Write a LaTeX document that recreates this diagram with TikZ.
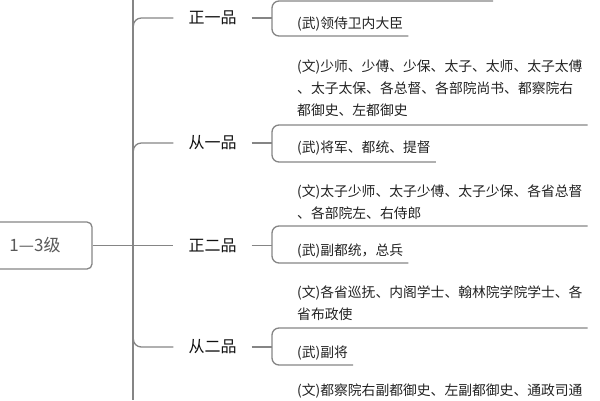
\documentclass[tikz,border=0pt]{standalone}
\usepackage{fontspec}
\newfontfamily\cjk{Noto Sans CJK SC}
\usetikzlibrary{calc}
\usepackage{xcolor}
\definecolor{linegray}{HTML}{858585}
\definecolor{rankblack}{HTML}{111111}
\definecolor{itemgray}{HTML}{222222}
\definecolor{rootgray}{HTML}{595959}

\begin{document}
\begin{tikzpicture}[x=1pt, y=-1pt,
  line/.style = {draw=linegray, line width=1.3pt},
  rank/.style = {font=\cjk\fontsize{16}{18}\selectfont, text=rankblack, inner xsep=15pt, inner ysep=2pt},
  item/.style = {font=\cjk\fontsize{13.8}{22}\selectfont, text=itemgray, align=left, anchor=base west, inner xsep=5pt, inner ysep=0pt}]

\useasboundingbox (0,0) rectangle (600,400);

% root and trunk
\node[line, rounded corners=5pt, minimum width=114pt, minimum height=47pt, inner sep=0, font=\cjk\fontsize{17}{20}\selectfont, text=rootgray] (root) at (35,245.5) {1—3级};
\coordinate (trunktop) at (133,0);
\coordinate (trunkbot) at (133,400);
\draw[line] (trunktop) -- (trunkbot);

% ranks
\node[rank] (r1) at (212.5,18) {正一品};
\node[rank] (r2) at (212.5,143) {从一品};
\node[rank] (r3) at (212.5,245.5) {正二品};
\node[rank] (r4) at (212.5,347) {从二品};

\draw[line] (root.east) -- (r3.west);
\draw[line] (r1.west) -- ++(-32,0) to[out=180, in=90] ++(-8,8);
\draw[line] (r2.west) -- ++(-32,0) to[out=180, in=90] ++(-8,8);
\draw[line] (r4.west) -- ++(-32,0) to[out=180, in=-90] ++(-8,-8);

% bracket points
\coordinate (b1t) at (272,1);
\coordinate (b1b) at (272,36);
\coordinate (b2t) at (272,125);
\coordinate (b2b) at (272,162);
\coordinate (b3t) at (272,226);
\coordinate (b3b) at (272,263);
\coordinate (b4t) at (272,328);
\coordinate (b4b) at (272,365);

% items (base = last line)
\node[item] (wu1) at (292,28) {(武)领侍卫内大臣};

\node[item] (wen2) at (292,115) {(文)少师、少傅、少保、太子、太师、太子太傅\\、太子太保、各总督、各部院尚书、都察院右\\都御史、左都御史};
\node[item] (wu2) at (292,152) {(武)将军、都统、提督};

\node[item] (wen3) at (292,218) {(文)太子少师、太子少傅、太子少保、各省总督\\、各部院左、右侍郎};
\node[item] (wu3) at (292,255) {(武)副都统，总兵};

\node[item] (wen4) at (292,319) {(文)各省巡抚、内阁学士、翰林院学院学士、各\\省布政使};
\node[item] (wu4) at (292,357) {(武)副将};

\node[item] (wen5) at (292,395) {(文)都察院右副都御史、左副都御史、通政司通};

% brackets
\draw[line, rounded corners=7pt] ($(b1t)+(221,0)$) -- (b1t) -- (b1b) -- (wu1.east |- b1b);
\draw[line, rounded corners=7pt] (wen2.east |- b2t) -- (b2t) -- (b2b) -- (wu2.east |- b2b);
\draw[line, rounded corners=7pt] (wen3.east |- b3t) -- (b3t) -- (b3b) -- (wu3.east |- b3b);
\draw[line, rounded corners=7pt] (wen4.east |- b4t) -- (b4t) -- (b4b) -- (wu4.east |- b4b);

\draw[line] (r1.east) -- (r1.east -| b1t);
\draw[line] (r2.east) -- (r2.east -| b2t);
\draw[line] (r3.east) -- (r3.east -| b3t);
\draw[line] (r4.east) -- (r4.east -| b4t);

\end{tikzpicture}
\end{document}
